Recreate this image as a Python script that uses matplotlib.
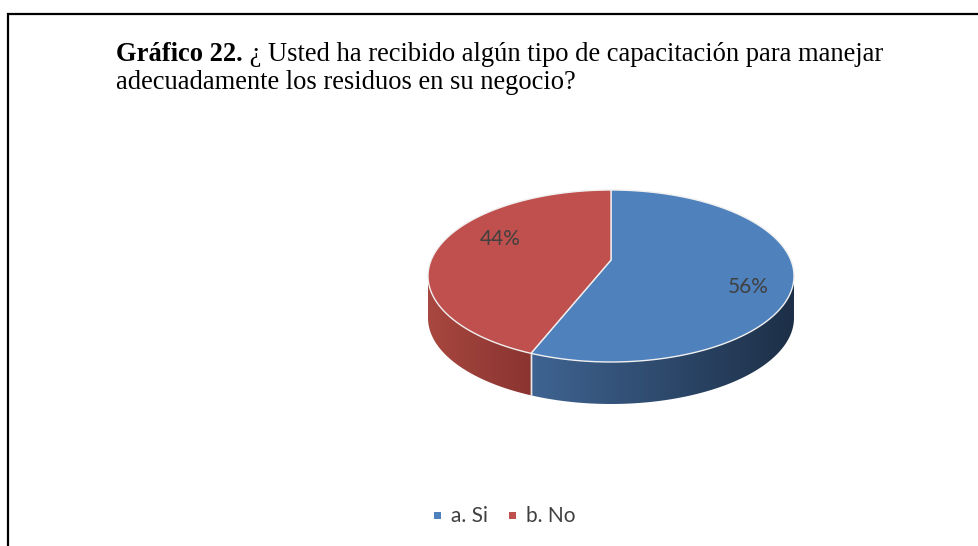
import numpy as np
import matplotlib
matplotlib.use("Agg")
import matplotlib.pyplot as plt
from matplotlib.patches import Polygon, Rectangle
from matplotlib.colors import to_rgb

# ---- data ----
categories = ["a. Si", "b. No"]
values = [56, 44]
pct_labels = ["56%", "44%"]
top_colors = ["#4f81bd", "#c0504d"]
side_light = ["#3f6492", "#a8473f"]
side_dark = ["#1d2f47", "#8a3431"]
title_bold = "Gráfico 22."
title_rest = " ¿ Usted ha recibido algún tipo de capacitación para manejar"
title_line2 = "adecuadamente los residuos en su negocio?"

W, H = 979, 546
fig = plt.figure(figsize=(W / 100, H / 100), dpi=100)
ax = fig.add_axes([0, 0, 1, 1])
ax.set_xlim(0, W)
ax.set_ylim(H, 0)
ax.axis("off")

# frame
ax.plot([8, 8, W + 2], [H + 2, 13.5, 13.5], color="black", lw=1.6,
        solid_joinstyle="miter", solid_capstyle="butt")

# title
serif = "Liberation Serif"
fs_title = 19.1
t1 = ax.text(116, 61, title_bold, fontsize=fs_title, fontweight="bold",
             family=serif, va="baseline", ha="left", color="black")
ax.annotate(title_rest, xy=(1, 0), xycoords=t1, va="bottom", ha="left",
            fontsize=fs_title, family=serif, color="black",
            annotation_clip=False)
ax.text(116, 89, title_line2, fontsize=fs_title, family=serif,
        va="baseline", ha="left", color="black")

# ---- 3D pie geometry (simple perspective) ----
cx, cy = 611, 260
persp = 0.186
R = 183 * np.sqrt(1 - persp ** 2)
B = 70 * (1 + persp)
depth = 42


def pt(theta_deg, dy=0.0):
    t = np.radians(theta_deg)
    d = 1 + persp * np.cos(t)
    return cx + R * np.sin(t) / d, cy - B * np.cos(t) / d + dy


total = float(sum(values))
bounds = np.concatenate([[0], np.cumsum(values) / total * 360.0])
vis0 = np.degrees(np.arccos(-persp))
vis1 = 360 - vis0

# side walls (visible front part)
for i in range(len(values)):
    a0, a1 = bounds[i], bounds[i + 1]
    lo, hi = max(a0, vis0), min(a1, vis1)
    if hi <= lo:
        continue
    th = np.linspace(lo, hi, 200)
    xs, ys = pt(th)
    verts = list(zip(xs, ys)) + list(zip(xs[::-1], ys[::-1] + depth))
    poly = Polygon(verts, closed=True, facecolor="none", edgecolor="none")
    ax.add_patch(poly)
    xmin, xmax = xs.min(), xs.max()
    c0 = np.array(to_rgb(side_light[i]))
    c1 = np.array(to_rgb(side_dark[i]))
    f = np.linspace(0, 1, 256)
    grad = (c0[None, :] * (1 - f[:, None]) + c1[None, :] * f[:, None])[None, :, :]
    im = ax.imshow(grad, extent=[xmin, xmax, ys.max() + depth + 2, ys.min() - 2],
                   aspect="auto", interpolation="bilinear", zorder=1)
    im.set_clip_path(poly)
    for a in (a0, a1):
        if vis0 < a < vis1:
            x, y = pt(a)
            ax.plot([x, x], [y, y + depth], color="#e8e8e8", lw=1.0, zorder=3)

# top faces
for i in range(len(values)):
    a0, a1 = bounds[i], bounds[i + 1]
    th = np.linspace(a0, a1, 300)
    xs, ys = pt(th)
    verts = [(cx, cy)] + list(zip(xs, ys))
    ax.add_patch(Polygon(verts, closed=True, facecolor=top_colors[i],
                         edgecolor="#f0f0f0", lw=1.0, zorder=2))

# percentage labels
label_pos = [(748, 287), (500, 239)]
for txt, (x, y) in zip(pct_labels, label_pos):
    ax.text(x, y, txt, fontsize=15, family="Lato", color="#404040",
            ha="center", va="center", zorder=5)

# legend
leg_x = [438, 513]
for i, cat in enumerate(categories):
    ax.add_patch(Rectangle((leg_x[i] - 3.5, 512), 7, 7,
                           facecolor=top_colors[i], edgecolor="none"))
    ax.text(leg_x[i] + 13, 515.5, cat, fontsize=15, family="Lato",
            color="#404040", ha="left", va="center")

fig.savefig("out.png", dpi=100)
